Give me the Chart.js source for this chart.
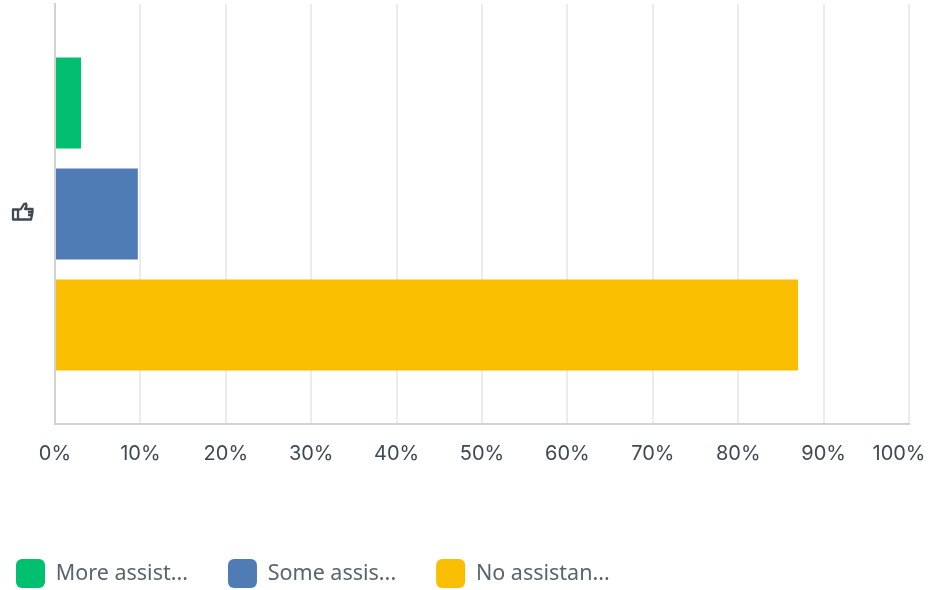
<!DOCTYPE html>
<html>
<head>
<meta charset="utf-8">
<title>Assistance</title>
<script src="https://cdn.jsdelivr.net/npm/chart.js@4"></script>
<style>
  html, body { margin: 0; padding: 0; background: #fff; }
  canvas { display: block; }
</style>
</head>
<body>
<canvas id="myChart" width="929" height="590"></canvas>
<script>
const categories = [''];
const seriesNames = ['More assist...', 'Some assis...', 'No assistan...'];
const moreAssist = [3.05];
const someAssist = [9.7];
const noAssist = [87];
const seriesColors = ['#00bf6f', '#507cb6', '#f9be00'];
const tickStep = 10;

// thumbs-up icon, drawn next to the axis because the category label is a glyph
const thumbIcon = {
    id: 'thumbIcon',
    afterDraw(chart) {
        const ctx = chart.ctx;
        const y = chart.scales.y.getPixelForValue(0);
        ctx.save();
        ctx.translate(12, y - 12);
        ctx.strokeStyle = '#3e4a52';
        ctx.lineWidth = 2.3;
        ctx.lineJoin = 'round';
        ctx.strokeRect(1, 7.5, 5, 10);
        ctx.beginPath();
        ctx.moveTo(6, 8);
        ctx.lineTo(9, 7);
        ctx.lineTo(12, 2);
        ctx.lineTo(14, 1.5);
        ctx.lineTo(14.5, 4);
        ctx.lineTo(13, 7);
        ctx.lineTo(20.5, 7);
        ctx.lineTo(20.5, 10);
        ctx.lineTo(16, 10);
        ctx.moveTo(20.5, 10);
        ctx.lineTo(20, 13);
        ctx.lineTo(16, 13);
        ctx.moveTo(20, 13);
        ctx.lineTo(19, 17.5);
        ctx.lineTo(6, 17.5);
        ctx.stroke();
        ctx.restore();
    }
};

// the last tick label sits a bit left of its gridline so it stays inside the canvas
const nudgeLastTick = {
    id: 'nudgeLastTick',
    beforeDraw(chart) {
        const items = chart.scales.x.getLabelItems();
        const last = items[items.length - 1];
        last.options.translation[0] -= 10;
    }
};

const ctx = document.getElementById('myChart').getContext('2d');
new Chart(ctx, {
    type: 'bar',
    data: {
        labels: categories,
        datasets: [
            { label: seriesNames[0], data: moreAssist, backgroundColor: seriesColors[0] },
            { label: seriesNames[1], data: someAssist, backgroundColor: seriesColors[1] },
            { label: seriesNames[2], data: noAssist, backgroundColor: seriesColors[2] }
        ]
    },
    options: {
        indexAxis: 'y',
        responsive: false,
        animation: false,
        categoryPercentage: 0.793,
        barPercentage: 0.82,
        // negative padding keeps the wide legend spacing from pushing the plot around
        layout: { padding: { left: -24, right: 20, top: 4, bottom: -8 } },
        scales: {
            x: {
                min: 0,
                max: 100,
                ticks: {
                    stepSize: tickStep,
                    padding: 18,
                    maxRotation: 0,
                    color: '#3e4a52',
                    font: { family: 'Inter', size: 20 },
                    callback: v => v + '%'
                },
                grid: { color: '#ececec', lineWidth: 2, drawTicks: false },
                border: { color: '#d0d2d3', width: 2 },
                afterFit(scale) {
                    scale.height = 95;
                    scale.paddingLeft = 0;
                    scale.paddingRight = 0;
                }
            },
            y: {
                ticks: { display: false },
                grid: { display: false },
                border: { color: '#d0d2d3', width: 2 },
                afterFit(scale) { scale.width = 79; }
            }
        },
        plugins: {
            tooltip: { enabled: false },
            legend: {
                position: 'bottom',
                align: 'start',
                labels: {
                    boxWidth: 29,
                    boxHeight: 29,
                    useBorderRadius: true,
                    borderRadius: 6,
                    padding: 40,
                    color: '#59656d',
                    font: { family: 'Noto Sans', size: 21.5 }
                }
            }
        }
    },
    plugins: [thumbIcon, nudgeLastTick]
});
</script>
</body>
</html>
